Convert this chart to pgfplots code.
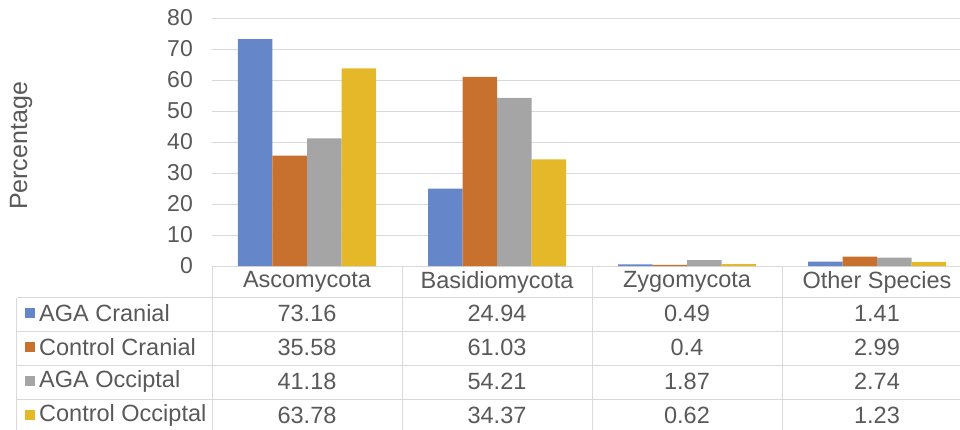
\documentclass[border=0pt]{standalone}
\usepackage{pgfplots}
\usepackage{pgfplotstable}
\pgfplotsset{compat=1.18}
\usepackage{fontspec}
\setmainfont{Liberation Sans}

\definecolor{cAGAc}{HTML}{6586C8}
\definecolor{cCONc}{HTML}{C8712F}
\definecolor{cAGAo}{HTML}{A5A5A5}
\definecolor{cCONo}{HTML}{E5B82A}
\definecolor{txt}{HTML}{595959}
\definecolor{rule}{HTML}{D9D9D9}
\newcommand\cf{\fontsize{23.5}{27}\selectfont}

% percentages per phylum, one column per group
\pgfplotstableread{
x AGAc CONc AGAo CONo
0 73.16 35.58 41.18 63.78
1 24.94 61.03 54.21 34.37
2 0.49 0.4 1.87 0.62
3 1.41 2.99 2.74 1.23
}\data

\begin{document}
\begin{tikzpicture}[x=1pt,y=1pt]
\clip (-212,-163) rectangle (748,266);
\begin{axis}[
    at={(0,0)}, anchor=south west,
    scale only axis,
    width=748pt, height=248pt,
    xmin=-0.5, xmax=3.4368,
    ymin=0, ymax=80,
    ytick={0,10,...,80},
    xtick=\empty,
    axis line style={draw=none},
    major tick length=0pt,
    ymajorgrids,
    grid style={rule, line width=1pt},
    /pgf/number format/assume math mode=true,
    yticklabel style={font=\fontsize{23}{27}\selectfont, text=txt, inner sep=0pt, xshift=-19pt},
    ylabel={Percentage},
    ylabel style={at={(axis description cs:-0.2553,0.484)}, anchor=center,
                  font=\fontsize{25}{29}\selectfont, text=txt},
    ybar=0pt, bar width=34.5pt,
    clip=false,
]
\addplot[fill=cAGAc, draw=none] table[x=x, y=AGAc] {\data};
\addplot[fill=cCONc, draw=none] table[x=x, y=CONc] {\data};
\addplot[fill=cAGAo, draw=none] table[x=x, y=AGAo] {\data};
\addplot[fill=cCONo, draw=none] table[x=x, y=CONo] {\data};
\end{axis}

% data table under the plot
\begin{scope}[rule, line width=1pt]
  \foreach \xx in {0,190,380,570} \draw (\xx,0) -- (\xx,-170);
  \draw (-195,-31.5) -- (-195,-170);
  \foreach \yy in {-31.5,-65,-99.5,-133} \draw (-195,\yy) -- (760,\yy);
\end{scope}

\foreach \name [count=\i from 0] in {Ascomycota,Basidiomycota,Zygomycota,Other Species}
  \node[font=\cf, text=txt] at (95+190*\i,-16) {\name};

\foreach \col/\lab/\yy in {AGAc/AGA Cranial/-47, CONc/Control Cranial/-81,
                           AGAo/AGA Occiptal/-115, CONo/Control Occiptal/-149} {
  \fill[c\col] (-187,\yy-5) rectangle (-177,\yy+5);
  \node[font=\cf, text=txt, anchor=west, inner sep=0pt] at (-173,\yy) {\lab};
  \foreach \r in {0,...,3} {
    \pgfplotstablegetelem{\r}{\col}\of\data
    \node[font=\cf, text=txt] at (95+190*\r,\yy) {\pgfplotsretval};
  }
}
\end{tikzpicture}
\end{document}
